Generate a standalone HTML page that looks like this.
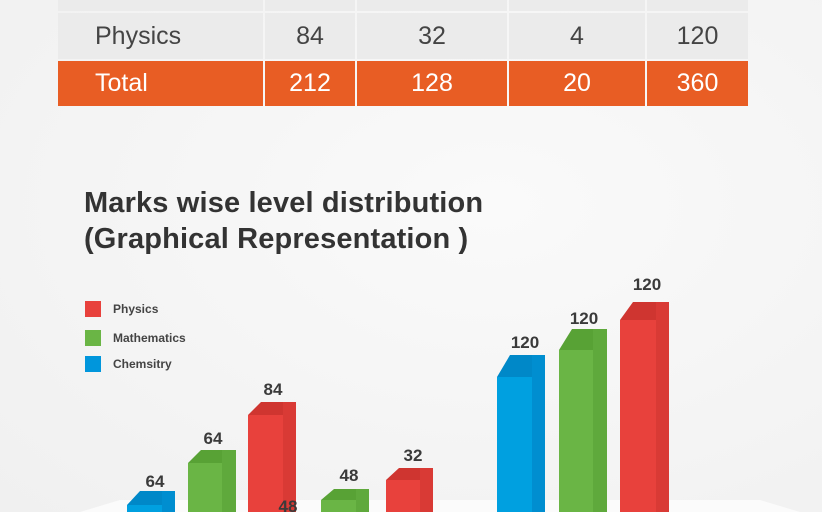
<!DOCTYPE html>
<html><head><style>
body{margin:0;width:822px;height:512px;overflow:hidden;background:radial-gradient(ellipse at 60% 40%,#fafafa,#f0f0f0);font-family:"Liberation Sans",sans-serif;position:relative}
.c{position:absolute;box-sizing:border-box;display:flex;align-items:center;justify-content:center;font-size:25px;color:#444}
.g{background:#ebebeb}.o{background:#e85d24;color:#fff}
</style></head><body>
<div class="c g" style="left:58px;top:0;width:205px;height:11px"></div>
<div class="c g" style="left:265px;top:0;width:90px;height:11px"></div>
<div class="c g" style="left:357px;top:0;width:150px;height:11px"></div>
<div class="c g" style="left:509px;top:0;width:136px;height:11px"></div>
<div class="c g" style="left:647px;top:0;width:101px;height:11px"></div>

<div class="c g" style="left:58px;top:13px;width:205px;height:46px;justify-content:flex-start;padding-left:37px">Physics</div>
<div class="c g" style="left:265px;top:13px;width:90px;height:46px">84</div>
<div class="c g" style="left:357px;top:13px;width:150px;height:46px">32</div>
<div class="c g" style="left:509px;top:13px;width:136px;height:46px">4</div>
<div class="c g" style="left:647px;top:13px;width:101px;height:46px">120</div>

<div class="c o" style="left:58px;top:61px;width:205px;height:45px;justify-content:flex-start;padding-left:37px">Total</div>
<div class="c o" style="left:265px;top:61px;width:90px;height:45px">212</div>
<div class="c o" style="left:357px;top:61px;width:150px;height:45px">128</div>
<div class="c o" style="left:509px;top:61px;width:136px;height:45px">20</div>
<div class="c o" style="left:647px;top:61px;width:101px;height:45px">360</div>

<div style="position:absolute;left:84px;top:185px;font-size:29px;letter-spacing:0.15px;font-weight:bold;color:#333;line-height:36px">Marks wise level distribution<br>(Graphical Representation )</div>

<svg width="822" height="512" style="position:absolute;left:0;top:0" font-family="Liberation Sans, sans-serif">
<polygon points="80,512 120,500 760,500 800,512" fill="#fbfbfb"/>
<rect x="85" y="301" width="16" height="16" fill="#e8413c"/>
<rect x="85" y="330" width="16" height="16" fill="#6ab545"/>
<rect x="85" y="356" width="16" height="16" fill="#0096dc"/>
<g font-size="12" font-weight="bold" fill="#444">
<text x="113" y="313">Physics</text><text x="113" y="342">Mathematics</text><text x="113" y="368">Chemsitry</text>
</g>
<g id="bars"></g>
<g font-size="17" font-weight="bold" fill="#3a3a3a" text-anchor="middle" font-family="Liberation Sans Narrow, Liberation Sans, sans-serif">
<text x="155" y="487">64</text><text x="213" y="444">64</text><text x="273" y="395">84</text>
<text x="288" y="512">48</text><text x="349" y="481">48</text><text x="413" y="461">32</text>
<text x="525" y="348">120</text><text x="584" y="324">120</text><text x="647" y="290">120</text>
</g>
</svg>
<script>
var C={r:["#e8413c","#d93a35","#cf3530"],g:["#6ab545","#5fa93c","#58a235"],b:["#00a0e0","#008ed0","#0088c8"]};
var B=[["b",127,162,175,491,505],["g",188,222,236,450,463],["r",248,283,296,402,415],["g",321,356,369,489,500],["r",386,420,433,468,480],["b",497,532,545,355,377],["g",559,593,607,329,350],["r",620,656,669,302,320]];
var s="";B.forEach(function(b){var c=C[b[0]],fl=b[1],fr=b[2],sr=b[3],t=b[4],ft=b[5];
s+='<polygon points="'+fr+','+t+' '+sr+','+t+' '+sr+',512 '+fr+',512" fill="'+c[1]+'"/>';
s+='<polygon points="'+fl+','+ft+' '+(fl+13)+','+t+' '+fr+','+t+' '+fr+','+ft+'" fill="'+c[2]+'"/>';
s+='<rect x="'+fl+'" y="'+ft+'" width="'+(fr-fl)+'" height="'+(512-ft)+'" fill="'+c[0]+'"/>';});
document.getElementById("bars").innerHTML=s;
</script>
</body></html>
